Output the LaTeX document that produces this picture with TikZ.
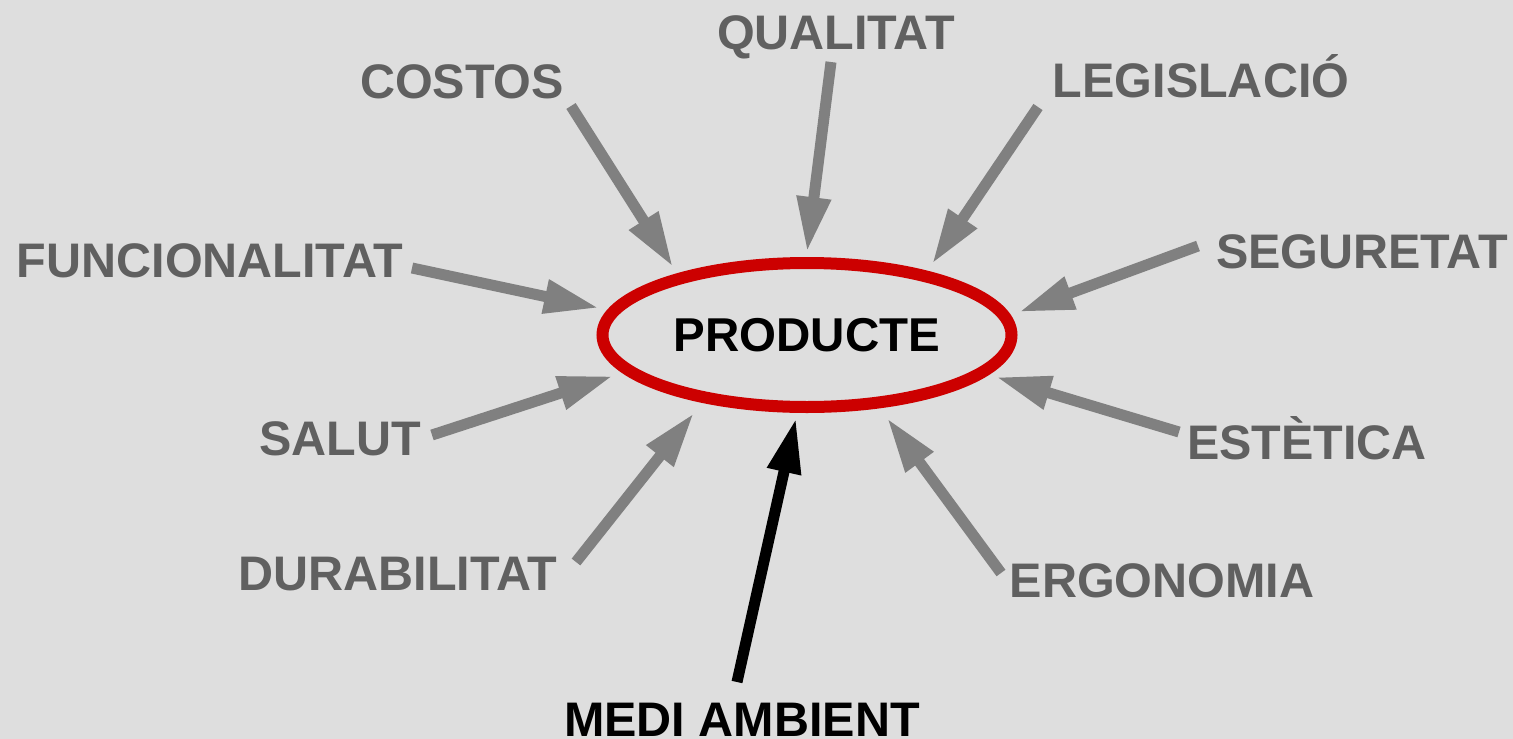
\documentclass[tikz,border=0pt]{standalone}
\usepackage{fontspec}
\setmainfont{Liberation Sans}
\usetikzlibrary{arrows.meta,shapes.geometric}
\definecolor{bgc}{HTML}{DEDEDE}
\definecolor{lblc}{HTML}{606060}
\definecolor{arrc}{HTML}{808080}
\definecolor{redc}{HTML}{CC0000}
\tikzset{
  lbl/.style={anchor=base, inner sep=0pt, text=lblc, font=\fontsize{48.5}{56}\selectfont\bfseries},
  infl/.style={draw=arrc, line width=11pt, -{Triangle[length=55pt,width=32pt]}},
  mainarr/.style={draw=black, line width=11pt, -{Triangle[length=55pt,width=32pt]}},
}
\begin{document}
\begin{tikzpicture}[x=1pt,y=-1pt]
\fill[bgc] (0,0) rectangle (1513,739);
\useasboundingbox (0,0) rectangle (1513,739);
% central node
\node[ellipse, draw=redc, line width=12pt, minimum width=409pt, minimum height=144pt, inner sep=0pt,
      font=\fontsize{47.5}{56}\selectfont\bfseries] (prod) at (807,335) {PRODUCTE};
% labels
\node[lbl] (qual) at (836,49) {QUALITAT};
\node[lbl] (cost) at (462,98) {COSTOS};
\node[lbl] (legi) at (1201,97) {LEGISLACIÓ};
\node[lbl] (func) at (210,277) {FUNCIONALITAT};
\node[lbl] (segu) at (1362,268) {SEGURETAT};
\node[lbl] (salu) at (340,455) {SALUT};
\node[lbl] (este) at (1307,459) {ESTÈTICA};
\node[lbl] (dura) at (398,590) {DURABILITAT};
\node[lbl] (ergo) at (1162,597) {ERGONOMIA};
\node[lbl, text=black] (medi) at (742,736) {MEDI AMBIENT};
% arrow ends
\coordinate (qualT) at (831,62);   \coordinate (qualH) at (807,252);
\coordinate (costT) at (571,106);  \coordinate (costH) at (673,267);
\coordinate (legiT) at (1038,107); \coordinate (legiH) at (932,264);
\coordinate (funcT) at (412,268);  \coordinate (funcH) at (599,308);
\coordinate (seguT) at (1198,246); \coordinate (seguH) at (1019,312);
\coordinate (saluT) at (432,435);  \coordinate (saluH) at (613,376);
\coordinate (esteT) at (1179,432); \coordinate (esteH) at (996,377);
\coordinate (duraT) at (576,562);  \coordinate (duraH) at (694,413);
\coordinate (ergoT) at (1001,573); \coordinate (ergoH) at (887,418);
\coordinate (mediT) at (737,682);  \coordinate (mediH) at (796,418);
\draw[infl] (qualT) -- (qualH);
\draw[infl] (costT) -- (costH);
\draw[infl] (legiT) -- (legiH);
\draw[infl] (funcT) -- (funcH);
\draw[infl] (seguT) -- (seguH);
\draw[infl] (saluT) -- (saluH);
\draw[infl] (esteT) -- (esteH);
\draw[infl] (duraT) -- (duraH);
\draw[infl] (ergoT) -- (ergoH);
\draw[mainarr] (mediT) -- (mediH);
\end{tikzpicture}
\end{document}
